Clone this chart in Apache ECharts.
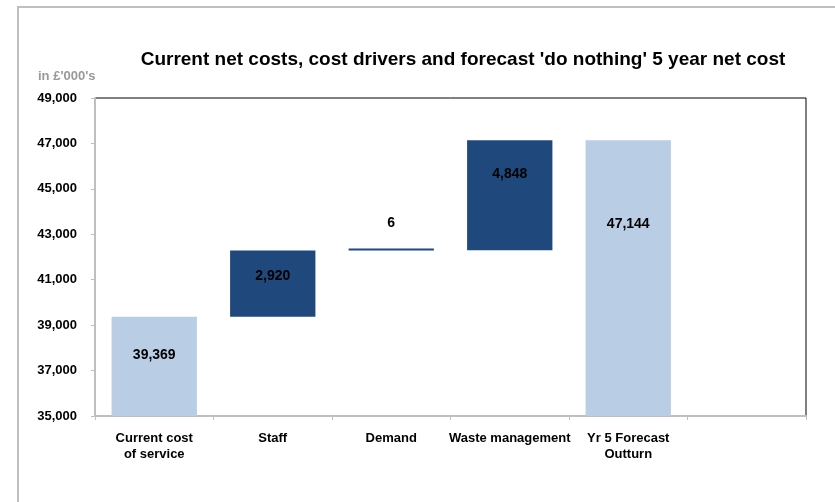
<!DOCTYPE html>
<html>
<head>
<meta charset="utf-8">
<script src="https://cdn.jsdelivr.net/npm/echarts@6/dist/echarts.min.js"></script>
<style>
  html, body { margin: 0; padding: 0; background: #fff; }
  #chart { width: 835px; height: 502px; }
</style>
</head>
<body>
<div id="chart"></div>
<script>
// 瀑布图数据
const categories = ['Current cost\nof service', 'Staff', 'Demand', 'Waste management', 'Yr 5 Forecast\nOutturn', ''];
const amounts = [39369, 2920, 6, 4848, 47144, null];
const isTotal = [true, false, false, false, true, false];
const yTicks = [35000, 49000, 2000]; // min, max, interval

// 不可见的底座：累计值
const bases = [];
let running = 0;
amounts.forEach((v, i) => {
  if (v == null) { bases.push(null); return; }
  if (isTotal[i]) { bases.push(0); running = v; }
  else { bases.push(running); running += v; }
});

// 标签相对柱顶的偏移
const labelDy = [38, 26, -25, 34, 84, 0];

const FONT = '"Liberation Sans", Arial, sans-serif';
const light = '#B9CDE5';
const dark = '#1F497D';

const myChart = echarts.init(document.getElementById('chart'));
myChart.setOption({
  animation: false,
  textStyle: { fontFamily: FONT },
  title: {
    text: "Current net costs, cost drivers and forecast 'do nothing' 5 year net cost",
    left: 458,
    textAlign: 'center',
    top: 45,
    textStyle: { fontFamily: FONT, fontSize: 19, fontWeight: 'bold', color: '#000' },
  },
  graphic: [
    {
      type: 'rect',
      shape: { x: 18, y: 7, width: 900, height: 600 },
      style: { fill: 'none', stroke: '#bfbfbf', lineWidth: 2 },
      silent: true,
    },
    {
      type: 'text',
      left: 38,
      top: 70,
      style: { text: "in £'000's", font: 'bold 13px ' + FONT, fill: '#999' },
    },
  ],
  grid: {
    left: 95,
    right: 29,
    top: 98,
    bottom: 86,
    show: true,
    borderColor: '#000',
    borderWidth: 1,
    backgroundColor: 'transparent',
  },
  xAxis: {
    type: 'category',
    data: categories,
    axisLine: { lineStyle: { color: '#bfbfbf', width: 2 } },
    axisTick: { show: true, length: 4, lineStyle: { color: '#bfbfbf' } },
    axisLabel: {
      interval: 0,
      margin: 14,
      color: '#000',
      fontWeight: 'bold',
      fontSize: 13,
      lineHeight: 16,
      fontFamily: FONT,
    },
  },
  yAxis: {
    type: 'value',
    min: yTicks[0],
    max: yTicks[1],
    interval: yTicks[2],
    axisLine: { show: true, lineStyle: { color: '#bfbfbf', width: 2 } },
    axisTick: { show: true, length: 4, lineStyle: { color: '#bfbfbf' } },
    splitLine: { show: false },
    axisLabel: {
      margin: 18,
      color: '#000',
      fontWeight: 'bold',
      fontSize: 13,
      fontFamily: FONT,
      formatter: v => v.toLocaleString('en-GB'),
    },
  },
  series: [
    {
      name: 'base',
      type: 'bar',
      stack: 'w',
      barCategoryGap: '28%',
      itemStyle: { color: 'transparent' },
      data: bases,
      silent: true,
    },
    {
      name: 'value',
      type: 'bar',
      stack: 'w',
      barCategoryGap: '28%',
      barMinHeight: 2,
      data: amounts.map((v, i) => ({
        value: v,
        itemStyle: { color: isTotal[i] ? light : dark },
        label: {
          show: v != null,
          position: ['50%', labelDy[i]],
          align: 'center',
          verticalAlign: 'middle',
          formatter: p => p.value.toLocaleString('en-GB'),
          color: '#000',
          fontWeight: 'bold',
          fontSize: 14,
          fontFamily: FONT,
        },
      })),
    },
  ],
});
</script>
</body>
</html>
